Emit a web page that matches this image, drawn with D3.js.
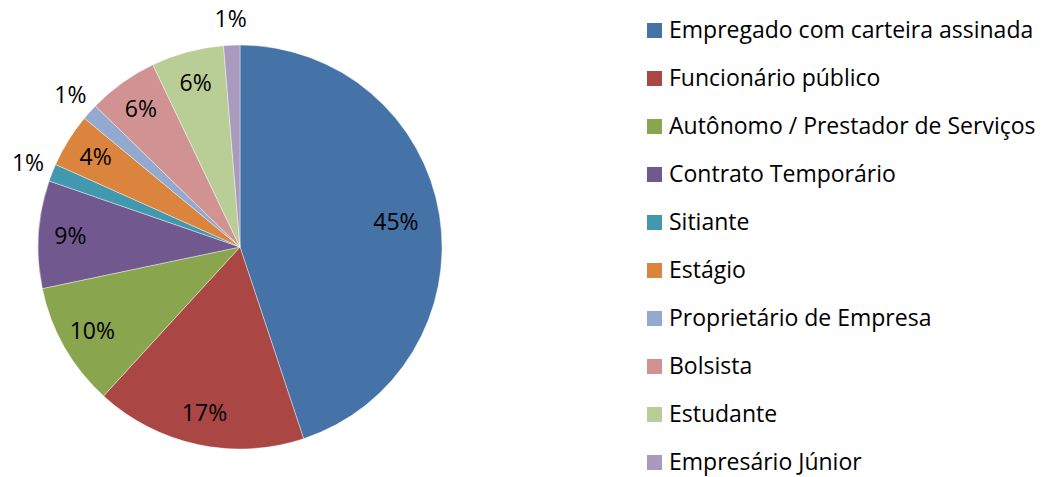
<!DOCTYPE html>
<html lang="pt">
<head>
<meta charset="UTF-8">
<title>Situação profissional</title>
<script src="https://d3js.org/d3.v7.min.js"></script>
<style>
  body { margin: 0; background: #fff; }
  svg { display: block; }
  text { font-family: "Open Sans", sans-serif; fill: #000; }
</style>
</head>
<body>
<svg width="1044" height="477"></svg>
<script>
// dados
const categorias = [
  "Empregado com carteira assinada",
  "Funcionário público",
  "Autônomo / Prestador de Serviços",
  "Contrato Temporário",
  "Sitiante",
  "Estágio",
  "Proprietário de Empresa",
  "Bolsista",
  "Estudante",
  "Empresário Júnior"
];
const valores = [44.9, 16.9, 9.9, 8.6, 1.4, 4.3, 1.3, 5.6, 5.8, 1.3];
const cores = ["#4572A7", "#AA4643", "#89A54E", "#71588F", "#4198AF",
               "#DB843D", "#93A9CF", "#D19392", "#B9CD96", "#A99BBD"];

const svg = d3.select("svg");
const cx = 240, cy = 247, r = 202;

const dados = categorias.map((c, i) => ({ nome: c, valor: valores[i], cor: cores[i] }));
const total = d3.sum(valores);

const pie = d3.pie().sort(null).value(d => d.valor);
const arc = d3.arc().innerRadius(0).outerRadius(r);
const arcos = pie(dados);

const g = svg.append("g").attr("transform", `translate(${cx},${cy})`);

g.selectAll("path")
  .data(arcos)
  .enter().append("path")
  .attr("d", arc)
  .attr("fill", d => d.data.cor)
  .attr("stroke", "#fff")
  .attr("stroke-width", 0.4);

// rótulos: dentro das fatias, ou fora quando a fatia é pequena
const pct = d => Math.round(d.data.valor / total * 100) + "%";
g.selectAll("text.rotulo")
  .data(arcos)
  .enter().append("text")
  .attr("class", "rotulo")
  .attr("text-anchor", "middle")
  .attr("font-size", 23)
  .attr("transform", d => {
    const rr = d.data.valor < 2 ? 228 : (d.data.valor > 30 ? 158 : 170);
    const a = (d.startAngle + d.endAngle) / 2;
    return `translate(${rr * Math.sin(a)},${-rr * Math.cos(a) + 8})`;
  })
  .text(pct);

// legenda
const leg = svg.append("g").attr("transform", "translate(647,30.5)");
const item = leg.selectAll("g")
  .data(dados)
  .enter().append("g")
  .attr("transform", (d, i) => `translate(0,${i * 48})`);

item.append("rect")
  .attr("x", 0).attr("y", -7.5)
  .attr("width", 15).attr("height", 15)
  .attr("fill", d => d.cor);

item.append("text")
  .attr("x", 22).attr("y", 7)
  .attr("font-size", 23)
  .text(d => d.nome);
</script>
</body>
</html>
